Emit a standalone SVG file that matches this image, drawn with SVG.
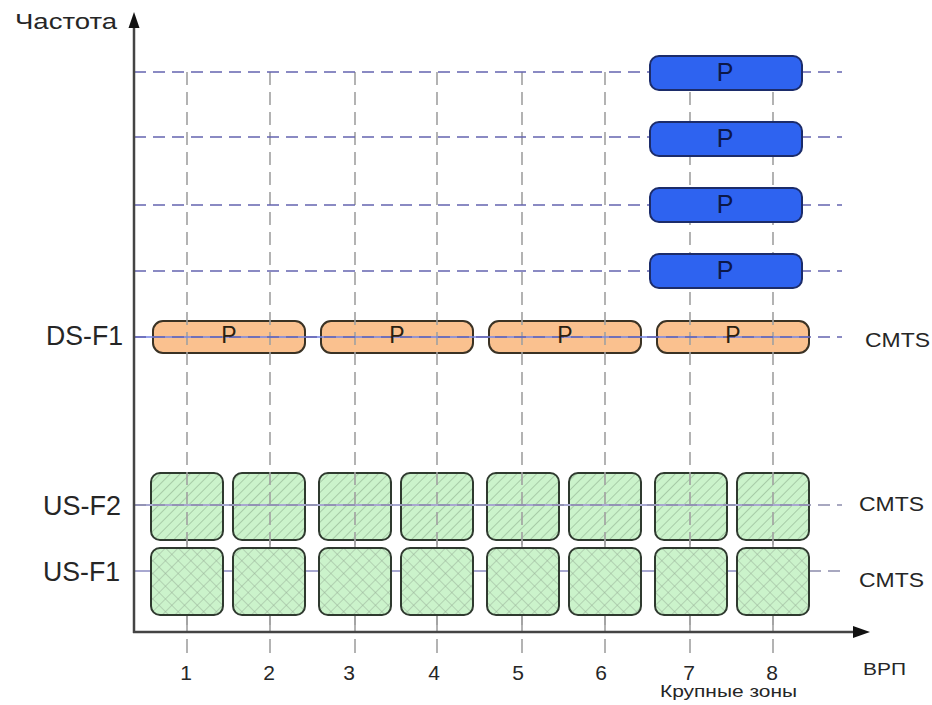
<svg xmlns="http://www.w3.org/2000/svg" width="932" height="705" viewBox="0 0 932 705">
<style>
text{font-family:"Liberation Sans",Arial,sans-serif;fill:#262626}
.lbl{font-size:27px}
.cmts{font-size:20px}
.num{font-size:21px;text-anchor:middle}
.pb{font-size:25px;text-anchor:middle;fill:#0c1848}
.po{font-size:23px;text-anchor:middle;fill:#2a2010}
.blue{fill:#2e63f0;stroke:#1c2c6a;stroke-width:2}
.orange{fill:#fac18f;stroke:#3a3224;stroke-width:2}
.g1{fill:url(#hatch);stroke:#2f3a2f;stroke-width:2}
.g2{fill:url(#cross);stroke:#2f3a2f;stroke-width:2}
.hd{stroke:#6464b0;stroke-width:1.6;stroke-dasharray:12 7;fill:none}
.vd{stroke:#a0a0a0;stroke-width:1.6;stroke-dasharray:13 7;fill:none}
.axis{stroke:#444;stroke-width:2.5;fill:none}
</style>
<defs>
<pattern id="hatch" patternUnits="userSpaceOnUse" width="7" height="7" patternTransform="rotate(45)">
<rect width="7" height="7" fill="#cbf3cb"/>
<line x1="0" y1="0" x2="0" y2="7" stroke="#8fb08f" stroke-width="1.2"/>
</pattern>
<pattern id="cross" patternUnits="userSpaceOnUse" width="9" height="9" patternTransform="rotate(45)">
<rect width="9" height="9" fill="#cbf3cb"/>
<line x1="0" y1="0" x2="0" y2="9" stroke="#98b098" stroke-width="1"/>
<line x1="0" y1="0" x2="9" y2="0" stroke="#98b098" stroke-width="1"/>
</pattern>
</defs>

<!-- lower layer boxes (grid drawn over them) -->
<g id="ds-boxes">
<rect class="orange" x="153" y="321" width="152" height="32" rx="10"/>
<rect class="orange" x="321" y="321" width="152" height="32" rx="10"/>
<rect class="orange" x="489" y="321" width="152" height="32" rx="10"/>
<rect class="orange" x="657" y="321" width="152" height="32" rx="10"/>
</g>
<g id="usf2-boxes">
<rect class="g1" x="151" y="473" width="72" height="67" rx="9"/>
<rect class="g1" x="233" y="473" width="72" height="67" rx="9"/>
<rect class="g1" x="319" y="473" width="72" height="67" rx="9"/>
<rect class="g1" x="401" y="473" width="72" height="67" rx="9"/>
<rect class="g1" x="487" y="473" width="72" height="67" rx="9"/>
<rect class="g1" x="569" y="473" width="72" height="67" rx="9"/>
<rect class="g1" x="655" y="473" width="72" height="67" rx="9"/>
<rect class="g1" x="737" y="473" width="72" height="67" rx="9"/>
</g>

<g id="connectors">
<!-- vertical grid -->
<g class="vd">
<line x1="187" y1="72" x2="187" y2="632"/>
<line x1="270" y1="72" x2="270" y2="632"/>
<line x1="355" y1="72" x2="355" y2="632"/>
<line x1="437" y1="72" x2="437" y2="632"/>
<line x1="522" y1="72" x2="522" y2="632"/>
<line x1="605" y1="72" x2="605" y2="632"/>
<line x1="690" y1="72" x2="690" y2="632"/>
<line x1="773" y1="72" x2="773" y2="632"/>
</g>
<g stroke="#a0a0a0" stroke-width="1.6">
<line x1="187" y1="540" x2="187" y2="632"/>
<line x1="270" y1="540" x2="270" y2="632"/>
<line x1="355" y1="540" x2="355" y2="632"/>
<line x1="437" y1="540" x2="437" y2="632"/>
<line x1="522" y1="540" x2="522" y2="632"/>
<line x1="605" y1="540" x2="605" y2="632"/>
<line x1="690" y1="540" x2="690" y2="632"/>
<line x1="773" y1="540" x2="773" y2="632"/>
<line x1="187" y1="639" x2="187" y2="653"/>
<line x1="270" y1="639" x2="270" y2="653"/>
<line x1="355" y1="639" x2="355" y2="653"/>
<line x1="437" y1="639" x2="437" y2="653"/>
<line x1="522" y1="639" x2="522" y2="653"/>
<line x1="605" y1="639" x2="605" y2="653"/>
<line x1="690" y1="639" x2="690" y2="653"/>
<line x1="773" y1="639" x2="773" y2="653"/>
</g>
<!-- horizontal lines -->
<line class="hd" x1="134" y1="72" x2="842" y2="72"/>
<line class="hd" x1="134" y1="137" x2="842" y2="137"/>
<line class="hd" x1="134" y1="205" x2="842" y2="205"/>
<line class="hd" x1="134" y1="271" x2="842" y2="271"/>
<line x1="134" y1="337" x2="809" y2="337" stroke="#7585e6" stroke-width="1.4"/>
<line class="hd" x1="134" y1="337" x2="842" y2="337" stroke="#7272a8"/>
<line x1="134" y1="505" x2="809" y2="505" stroke="#a8a8d0" stroke-width="2"/>
<line x1="134" y1="505" x2="842" y2="505" stroke="#8c8cac" stroke-width="1.6" stroke-dasharray="12 7"/>
<line x1="134" y1="571" x2="809" y2="571" stroke="#a8a8d0" stroke-width="2"/>
<line x1="809" y1="571" x2="842" y2="571" stroke="#8c8cac" stroke-width="1.6" stroke-dasharray="12 7"/>
<!-- axes -->
<line class="axis" x1="134" y1="24" x2="134" y2="633"/>
<line class="axis" x1="133" y1="632" x2="856" y2="632"/>
<polygon points="134,12 139.5,28 128.5,28" fill="#111"/>
<polygon points="870,632 853,626 853,638" fill="#111"/>
</g>

<g id="ds-labels">
<text class="po" x="229" y="343">P</text>
<text class="po" x="397" y="343">P</text>
<text class="po" x="565" y="343">P</text>
<text class="po" x="733" y="343">P</text>
</g>

<g id="usf1-boxes">
<rect class="g2" x="151" y="548" width="72" height="67" rx="9"/>
<rect class="g2" x="233" y="548" width="72" height="67" rx="9"/>
<rect class="g2" x="319" y="548" width="72" height="67" rx="9"/>
<rect class="g2" x="401" y="548" width="72" height="67" rx="9"/>
<rect class="g2" x="487" y="548" width="72" height="67" rx="9"/>
<rect class="g2" x="569" y="548" width="72" height="67" rx="9"/>
<rect class="g2" x="655" y="548" width="72" height="67" rx="9"/>
<rect class="g2" x="737" y="548" width="72" height="67" rx="9"/>
</g>

<g id="p-blue-1"><rect class="blue" x="650" y="56" width="152" height="34" rx="9"/><text class="pb" x="725" y="81">P</text></g>
<g id="p-blue-2"><rect class="blue" x="650" y="122" width="152" height="34" rx="9"/><text class="pb" x="725" y="147">P</text></g>
<g id="p-blue-3"><rect class="blue" x="650" y="188" width="152" height="34" rx="9"/><text class="pb" x="725" y="213">P</text></g>
<g id="p-blue-4"><rect class="blue" x="650" y="254" width="152" height="34" rx="9"/><text class="pb" x="725" y="279">P</text></g>

<g id="labels">
<text x="15" y="29" font-size="22" textLength="102" lengthAdjust="spacingAndGlyphs">Частота</text>
<text class="lbl" x="46" y="345" textLength="77" lengthAdjust="spacingAndGlyphs">DS-F1</text>
<text class="lbl" x="43" y="515" textLength="78" lengthAdjust="spacingAndGlyphs">US-F2</text>
<text class="lbl" x="43" y="581" textLength="77" lengthAdjust="spacingAndGlyphs">US-F1</text>
<text class="cmts" x="865" y="347" textLength="65" lengthAdjust="spacingAndGlyphs">CMTS</text>
<text class="cmts" x="859" y="511" textLength="65" lengthAdjust="spacingAndGlyphs">CMTS</text>
<text class="cmts" x="859" y="587" textLength="65" lengthAdjust="spacingAndGlyphs">CMTS</text>
<text class="num" x="186" y="680">1</text>
<text class="num" x="269" y="680">2</text>
<text class="num" x="349" y="680">3</text>
<text class="num" x="434" y="680">4</text>
<text class="num" x="518" y="680">5</text>
<text class="num" x="601" y="680">6</text>
<text class="num" x="689" y="680">7</text>
<text class="num" x="772" y="680">8</text>
<text x="863" y="675" font-size="16.5" textLength="43" lengthAdjust="spacingAndGlyphs">ВРП</text>
<text x="660" y="697" font-size="17" textLength="137" lengthAdjust="spacingAndGlyphs">Крупные зоны</text>
</g>
</svg>
